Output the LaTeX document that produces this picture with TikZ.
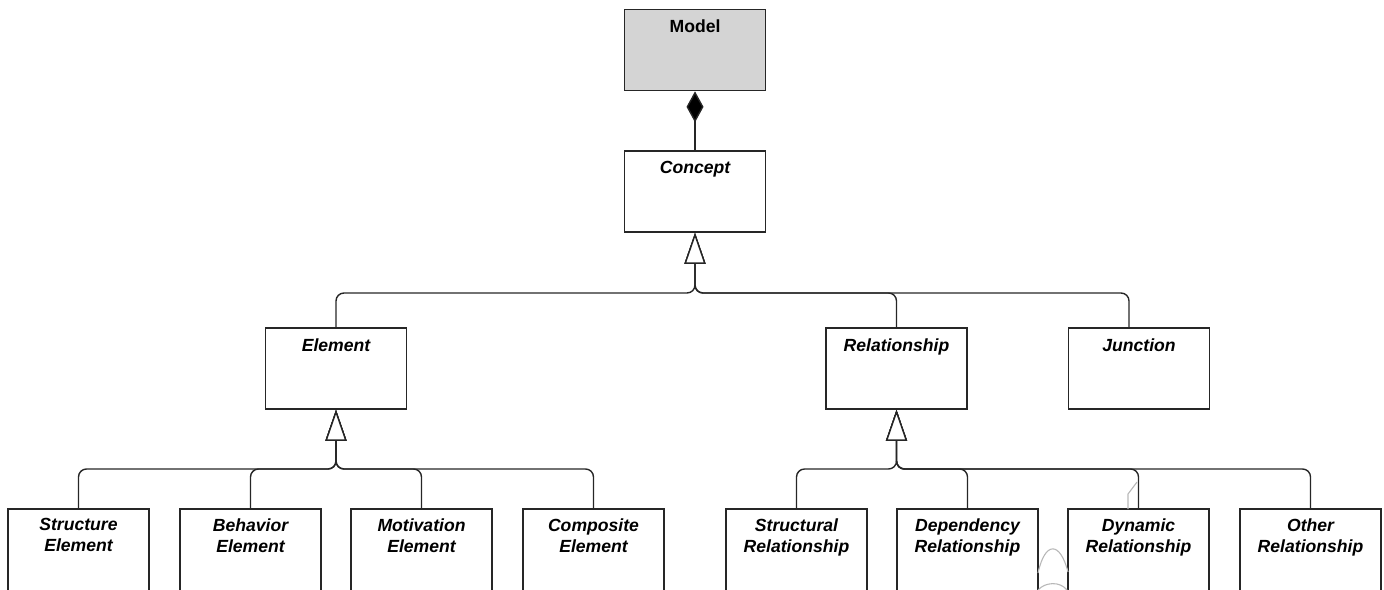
\documentclass[tikz,border=0pt]{standalone}
\usepackage{fontspec}
\setmainfont{Liberation Sans}
\usetikzlibrary{arrows.meta}
\begin{document}
\begin{tikzpicture}[x=0.5pt,y=-0.5pt,
  box/.style={draw=black!85, line width=0.85pt, rectangle, inner sep=0pt,
    minimum width=70.5pt, minimum height=40.5pt},
  leafbox/.style={box, minimum height=50pt},
  title/.style={anchor=north, inner sep=0pt, align=center,
    font=\fontsize{8.8}{10.5}\selectfont\bfseries\itshape},
  conn/.style={draw=black!85, line width=0.7pt, rounded corners=4pt},
  gen/.style={conn, -{Triangle[length=15.5pt,width=10.5pt,fill=white,line width=0.7pt]}},
  comp/.style={conn, -{Diamond[length=15.5pt,width=8.5pt,fill=black,line width=0.7pt]}},
  ghost/.style={draw=black!28, line width=0.55pt}
]
\useasboundingbox (0,0) rectangle (1384,589);
\clip (0,0) rectangle (1384,589);

% top of the hierarchy
\node[box, fill=black!17] (model) at (695,50) {};
\node[title, font=\fontsize{8.8}{10.5}\selectfont\bfseries] (model-t) at ([yshift=-5.5pt]model.north) {Model};
\node[box] (concept) at (695,191.5) {};
\node[title] (concept-t) at ([yshift=-5.5pt]concept.north) {Concept};

% second level
\node[box] (element) at (336,368.5) {};
\node[title] (element-t) at ([yshift=-5.5pt]element.north) {Element};
\node[box] (relationship) at (896.5,368.5) {};
\node[title] (relationship-t) at ([yshift=-5.5pt]relationship.north) {Relationship};
\node[box] (junction) at (1139,368.5) {};
\node[title] (junction-t) at ([yshift=-5.5pt]junction.north) {Junction};

% element kinds
\node[leafbox] (se) at (78.5,559) {};
\node[title] (se-t) at ([yshift=-5pt]se.north) {Structure\\Element};
\node[leafbox] (be) at (250.5,559) {};
\node[title] (be-t) at ([yshift=-5pt]be.north) {Behavior\\Element};
\node[leafbox] (me) at (421.5,559) {};
\node[title] (me-t) at ([yshift=-5pt]me.north) {Motivation\\Element};
\node[leafbox] (ce) at (593.5,559) {};
\node[title] (ce-t) at ([yshift=-5pt]ce.north) {Composite\\Element};

% relationship kinds
\node[leafbox] (sr) at (796.5,559) {};
\node[title] (sr-t) at ([yshift=-5pt]sr.north) {Structural\\Relationship};
\node[leafbox] (dr) at (967.5,559) {};
\node[title] (dr-t) at ([yshift=-5pt]dr.north) {Dependency\\Relationship};
\node[leafbox] (yr) at (1138.5,559) {};
\node[title] (yr-t) at ([yshift=-5pt]yr.north) {Dynamic\\Relationship};
\node[leafbox] (or) at (1310.5,559) {};
\node[title] (or-t) at ([yshift=-5pt]or.north) {Other\\Relationship};

% bus levels below each parent
\coordinate (cbus) at (695,293);
\coordinate (ebus) at (336,469);
\coordinate (rbus) at (896.5,469);
\coordinate (jtop) at (1129,328);

% composition
\draw[comp] (concept.north) -- (model.south);

% generalizations
\foreach \c in {element,relationship}
  \draw[gen] (\c.north) |- (cbus) -- (concept.south);
\draw[gen] (jtop) |- (cbus) -- (concept.south);
\foreach \c in {se,be,me,ce}
  \draw[gen] (\c.north) |- (ebus) -- (element.south);
\foreach \c in {sr,dr,yr,or}
  \draw[gen] (\c.north) |- (rbus) -- (relationship.south);

% faint pencil marks
\draw[ghost] (1137,482) -- (1128,494) -- (1128,509);
\draw[ghost] (1038,573) .. controls (1045,541) and (1060,541) .. (1068,572);
\draw[ghost] (1038,590) .. controls (1045,582) and (1060,581) .. (1067,590);
\end{tikzpicture}
\end{document}
